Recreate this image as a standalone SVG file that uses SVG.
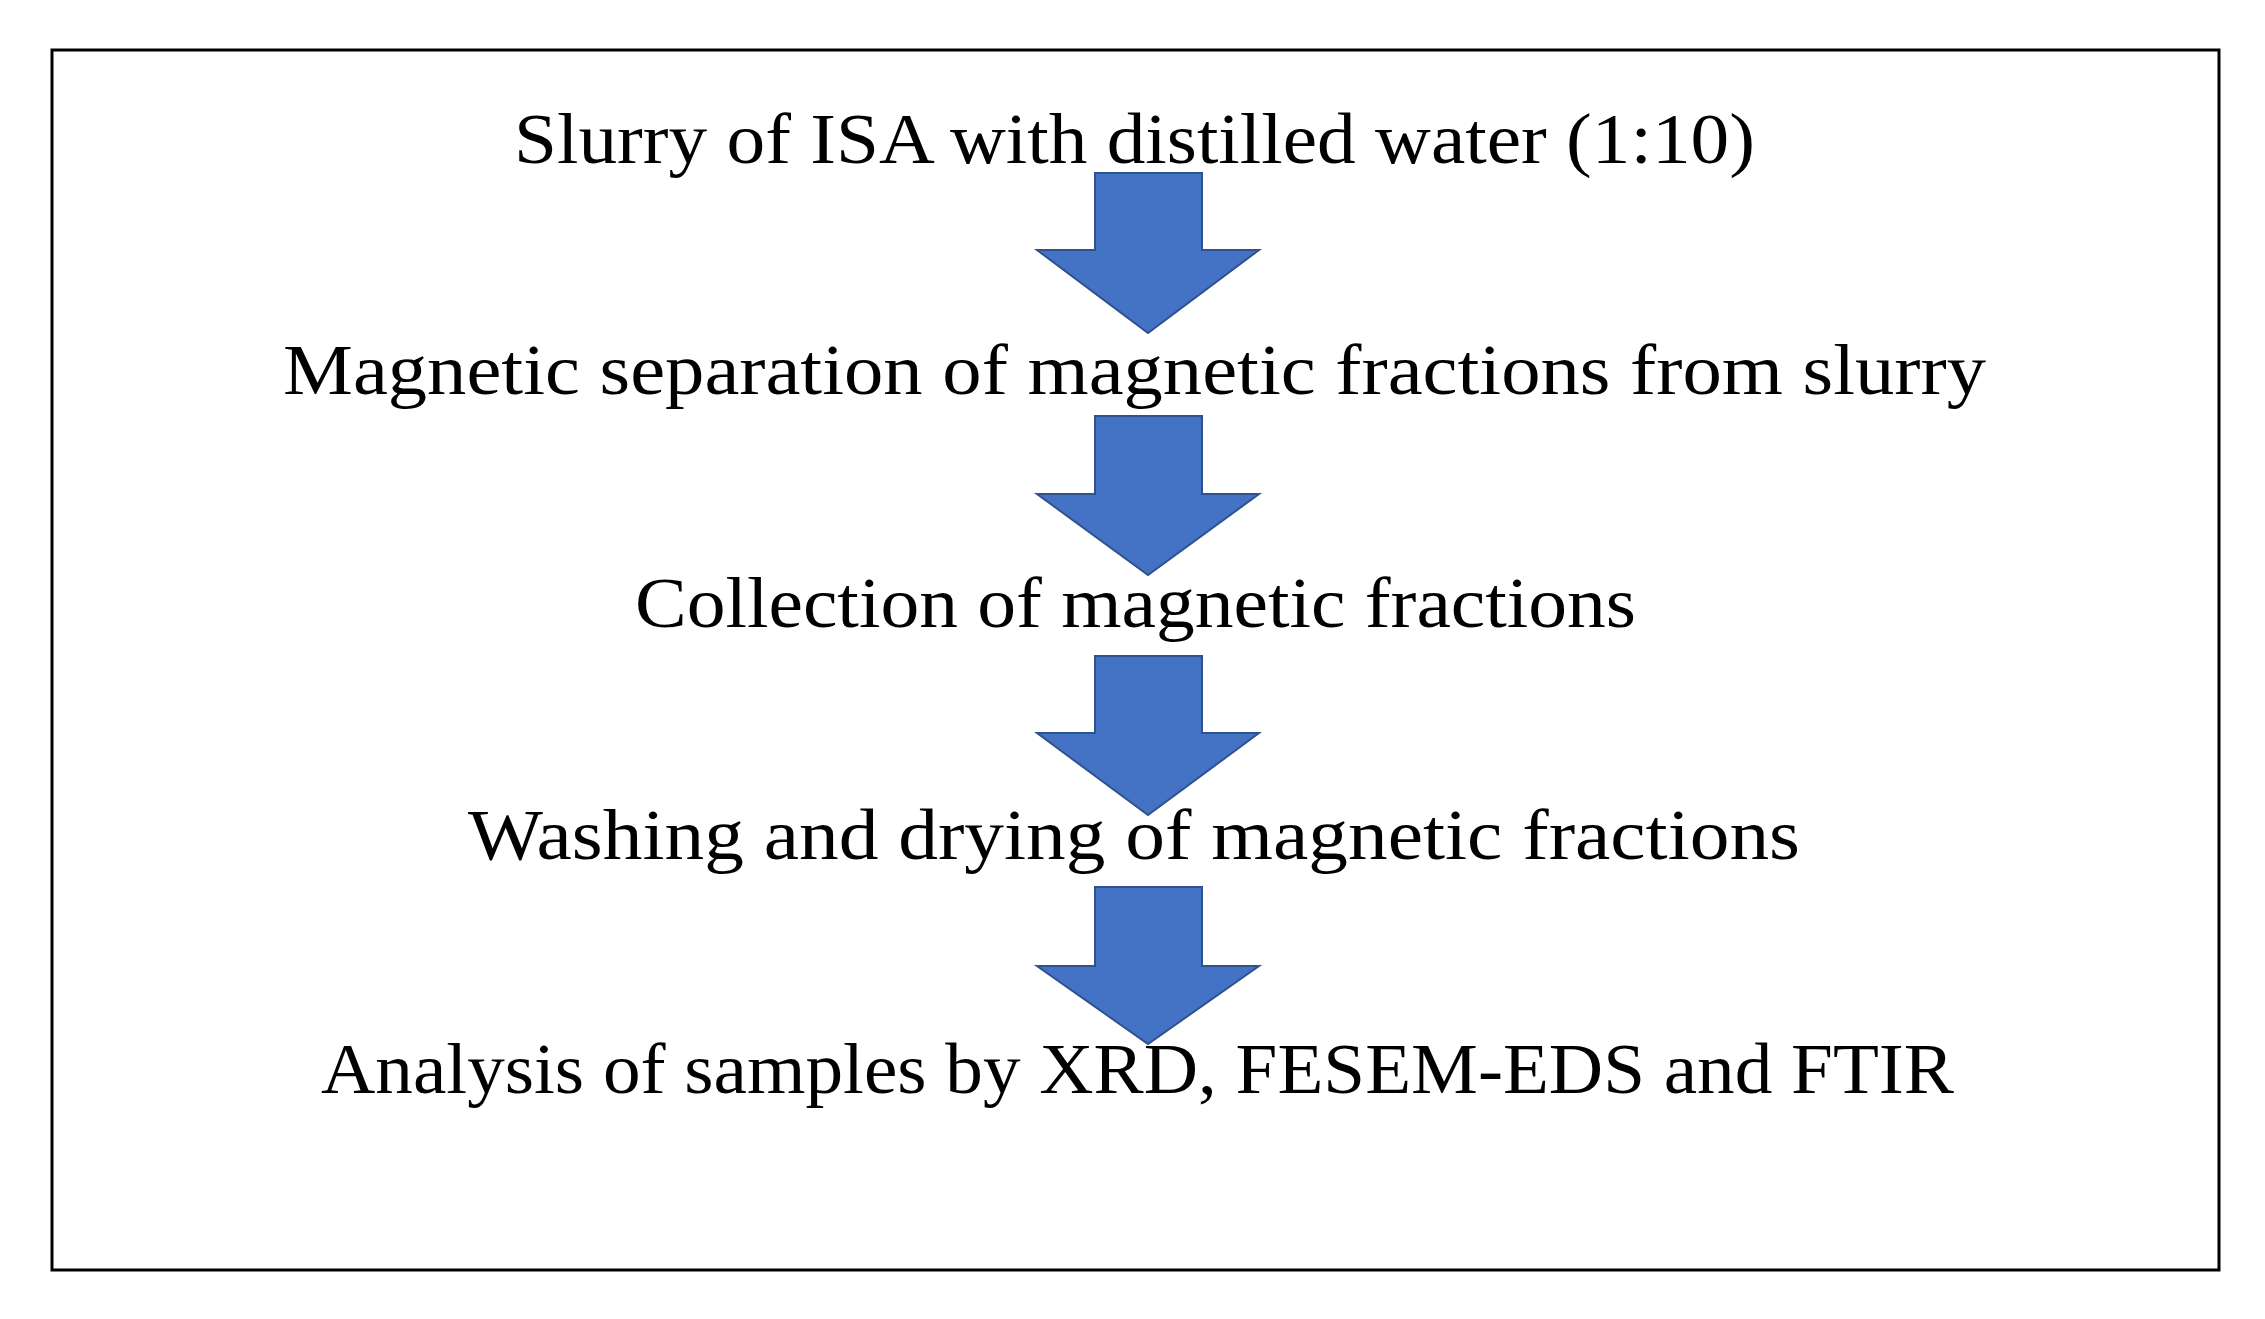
<svg xmlns="http://www.w3.org/2000/svg" width="2265" height="1319" viewBox="0 0 2265 1319">
<style>
.lbl{font-family:"Liberation Serif","Times New Roman",serif;font-size:72px;fill:#000}
.arr{fill:#4472C4;stroke:#2F528F;stroke-width:2;stroke-linejoin:miter}
</style>
<rect x="0" y="0" width="2265" height="1319" fill="#fff"/>
<rect id="frame" x="52" y="50" width="2167" height="1220" fill="none" stroke="#000" stroke-width="3"/>
<g id="connectors">
<polygon class="arr" points="1095,173 1202,173 1202,250 1259,250 1148,333 1037,250 1095,250"/>
<polygon class="arr" points="1095,416 1202,416 1202,494 1259,494 1148,575 1037,494 1095,494"/>
<polygon class="arr" points="1095,656 1202,656 1202,733 1259,733 1148,815 1037,733 1095,733"/>
<polygon class="arr" points="1095,887 1202,887 1202,966 1259,966 1148,1044 1037,966 1095,966"/>
</g>
<g id="step1"><text class="lbl" x="514" y="163" textLength="1241" lengthAdjust="spacingAndGlyphs">Slurry of ISA with distilled water (1:10)</text></g>
<g id="step2"><text class="lbl" x="283" y="394" textLength="1703" lengthAdjust="spacingAndGlyphs">Magnetic separation of magnetic fractions from slurry</text></g>
<g id="step3"><text class="lbl" x="635" y="627" textLength="1001" lengthAdjust="spacingAndGlyphs">Collection of magnetic fractions</text></g>
<g id="step4"><text class="lbl" x="468" y="859" textLength="1332" lengthAdjust="spacingAndGlyphs">Washing and drying of magnetic fractions</text></g>
<g id="step5"><text class="lbl" x="321" y="1093" textLength="1633" lengthAdjust="spacingAndGlyphs">Analysis of samples by XRD, FESEM-EDS and FTIR</text></g>
</svg>
